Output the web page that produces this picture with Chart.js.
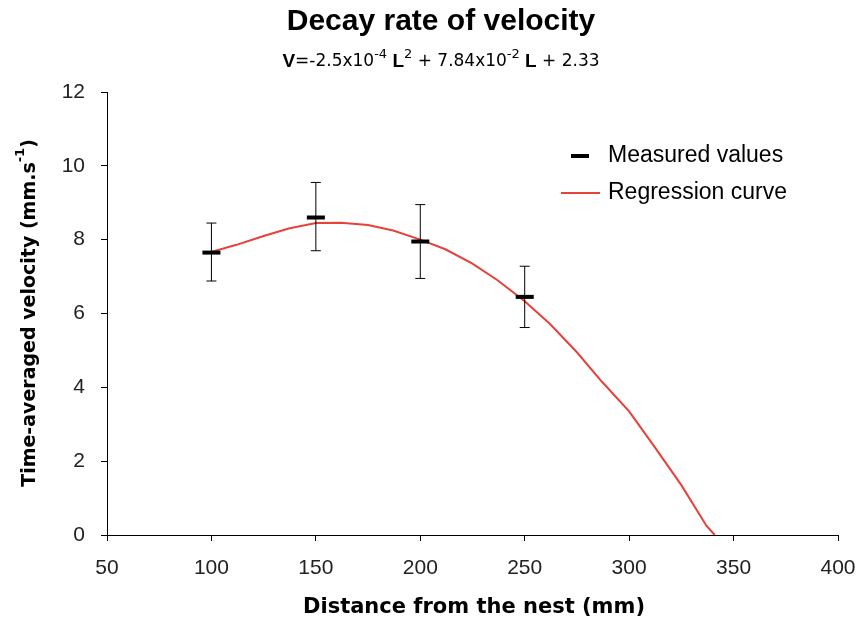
<!DOCTYPE html>
<html><head><meta charset="utf-8">
<script src="https://cdn.jsdelivr.net/npm/chart.js@4"></script>
<style>body{margin:0;background:#fff}#c{width:864px;height:628px}</style>
</head><body><div id="c"><canvas id="cv"></canvas></div>
<script>
const measuredX = [100, 150, 200, 250];
const measuredY = [7.65, 8.6, 7.95, 6.45];
const errLow = [6.88, 7.7, 6.95, 5.62];
const errHigh = [8.45, 9.55, 8.95, 7.28];
const curveX = [100, 112, 125, 137, 150, 162, 175, 187, 200, 212, 225, 237, 250, 262, 275, 287, 300, 312, 325, 337, 341];
const curveY = [7.67, 7.86, 8.1, 8.3, 8.45, 8.46, 8.4, 8.25, 8.0, 7.74, 7.35, 6.9, 6.33, 5.72, 4.95, 4.15, 3.35, 2.4, 1.35, 0.25, 0];
const font = 'Verdana, "DejaVu Sans", sans-serif';
const arial = 'Arial, "Liberation Sans", sans-serif';

const overlay = {
  id: 'overlay',
  afterDatasetsDraw(chart) {
    const { ctx, scales: { x, y } } = chart;
    ctx.save();
    ctx.strokeStyle = '#000'; ctx.lineWidth = 1;
    measuredX.forEach((v, i) => {
      const px = x.getPixelForValue(v);
      const y1 = y.getPixelForValue(errLow[i]), y2 = y.getPixelForValue(errHigh[i]);
      ctx.beginPath();
      ctx.moveTo(px, y1); ctx.lineTo(px, y2);
      ctx.moveTo(px - 5, y1); ctx.lineTo(px + 5, y1);
      ctx.moveTo(px - 5, y2); ctx.lineTo(px + 5, y2);
      ctx.stroke();
      ctx.fillStyle = '#000';
      ctx.fillRect(px - 9, y.getPixelForValue(measuredY[i]) - 2, 18, 4);
    });
    ctx.restore();
  },
  afterDraw(chart) {
    const ctx = chart.ctx;
    ctx.save();
    ctx.fillStyle = '#000';
    ctx.textAlign = 'center'; ctx.textBaseline = 'middle';
    ctx.font = 'bold 30px ' + arial;
    ctx.fillText('Decay rate of velocity', 441, 22);
    const parts = [
      ['V', 'bold 19px ' + arial, 0], ['=-2.5x10', '17px ' + font, 0], ['-4', '13px ' + font, -7],
      [' L', 'bold 19px ' + arial, 0], ['2', '13px ' + font, -7], [' + 7.84x10', '17px ' + font, 0],
      ['-2', '13px ' + font, -7], [' L', 'bold 19px ' + arial, 0], [' + 2.33', '17px ' + font, 0]
    ];
    let w = 0;
    parts.forEach(p => { ctx.font = p[1]; w += ctx.measureText(p[0]).width; });
    let cx = 441 - w / 2;
    ctx.textAlign = 'left';
    parts.forEach(p => { ctx.font = p[1]; ctx.fillText(p[0], cx, 62 + p[2]); cx += ctx.measureText(p[0]).width; });
    ctx.textAlign = 'center';
    ctx.font = 'bold 21px ' + font;
    ctx.fillText('Distance from the nest (mm)', 474, 608);
    ctx.translate(30, 313); ctx.rotate(-Math.PI / 2);
    const yp = [['Time-averaged velocity (mm.s', 'bold 19px ' + font, 0], ['-1', 'bold 13px ' + font, -9], [')', 'bold 19px ' + font, 0]];
    w = 0; yp.forEach(p => { ctx.font = p[1]; w += ctx.measureText(p[0]).width; });
    cx = -w / 2; ctx.textAlign = 'left';
    yp.forEach(p => { ctx.font = p[1]; ctx.fillText(p[0], cx, p[2]); cx += ctx.measureText(p[0]).width; });
    ctx.restore();
    ctx.save();
    ctx.fillStyle = '#000';
    ctx.fillRect(571, 154, 18, 4);
    ctx.strokeStyle = '#e8403a'; ctx.lineWidth = 2;
    ctx.beginPath(); ctx.moveTo(561, 193); ctx.lineTo(600, 193); ctx.stroke();
    ctx.font = '23px ' + arial;
    ctx.textBaseline = 'middle'; ctx.textAlign = 'left';
    ctx.fillText('Measured values', 608, 156);
    ctx.fillText('Regression curve', 608, 193);
    ctx.restore();
  }
};

new Chart(document.getElementById('cv'), {
  type: 'scatter',
  data: {
    datasets: [
      { label: 'Regression curve', data: curveX.map((v, i) => ({ x: v, y: curveY[i] })), showLine: true, borderColor: '#e8403a', borderWidth: 2, pointRadius: 0, tension: 0 },
      { label: 'Measured values', data: measuredX.map((v, i) => ({ x: v, y: measuredY[i] })), pointRadius: 0 }
    ]
  },
  options: {
    responsive: true, maintainAspectRatio: false, animation: false,
    layout: { padding: { top: 92, right: 26, left: 0, bottom: 0 } },
    plugins: { legend: { display: false }, tooltip: { enabled: false } },
    scales: {
      x: {
        type: 'linear', min: 50, max: 400,
        ticks: { stepSize: 50, color: '#222', font: { family: arial, size: 21 }, padding: 15 },
        grid: { drawOnChartArea: false, color: '#000', tickLength: 6 },
        border: { color: '#000' },
        afterFit: s => { s.height = 93; s.paddingRight = 0; s.paddingLeft = 0; }
      },
      y: {
        min: 0, max: 12,
        ticks: { stepSize: 2, color: '#222', font: { family: arial, size: 21 }, padding: 16 },
        grid: { drawOnChartArea: false, color: '#000', tickLength: 6 },
        border: { color: '#000' },
        afterFit: s => { s.width = 107; s.paddingTop = 0; s.paddingBottom = 0; }
      }
    }
  },
  plugins: [overlay]
});
</script></body></html>
